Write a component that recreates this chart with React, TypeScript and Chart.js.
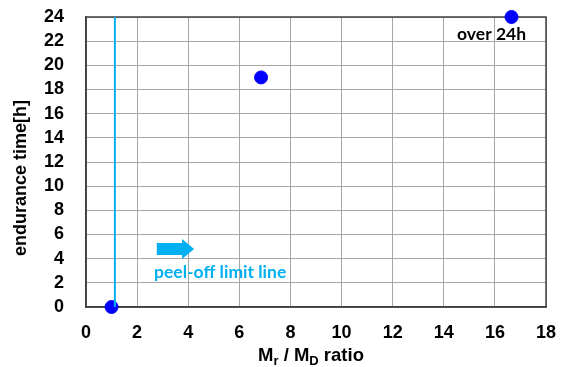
import React, { useEffect, useRef } from "react";
import { Chart, registerables } from "chart.js";

Chart.register(...registerables);

const ratioValues = [1.0, 6.85, 16.65];
const enduranceHours = [0, 19, 24];
const limitLineX = [1.13, 1.13];
const limitLineY = [0, 24];
const xTicks = [0, 2, 4, 6, 8, 10, 12, 14, 16, 18];
const yTicks = [0, 2, 4, 6, 8, 10, 12, 14, 16, 18, 20, 22, 24];
const overLabel = "over 24h";
const overLabelPos = [15.87, 22.6];
const limitLabel = "peel-off limit line";
const limitLabelPos = [5.25, 2.84];
const arrowFrom = [2.77, 4.8];
const arrowTo = [4.23, 4.8];

const CYAN = "#00B0F0";
const ARIAL = "Arial, 'Liberation Sans', sans-serif";
const NOTE_FONT = "bold 17.5px Lato, 'Open Sans', sans-serif";

const overlayPlugin = {
  id: "overlay",
  afterDraw(chart: any) {
    const { ctx, scales, chartArea } = chart;
    const xs = scales.x;
    const ys = scales.y;
    ctx.save();
    // arrow
    const x0 = xs.getPixelForValue(arrowFrom[0]);
    const x1 = xs.getPixelForValue(arrowTo[0]);
    const yc = ys.getPixelForValue(arrowFrom[1]);
    const headLen = 12;
    ctx.fillStyle = CYAN;
    ctx.beginPath();
    ctx.moveTo(x0, yc - 6);
    ctx.lineTo(x1 - headLen, yc - 6);
    ctx.lineTo(x1 - headLen, yc - 10);
    ctx.lineTo(x1, yc);
    ctx.lineTo(x1 - headLen, yc + 10);
    ctx.lineTo(x1 - headLen, yc + 6);
    ctx.lineTo(x0, yc + 6);
    ctx.closePath();
    ctx.fill();
    // labels
    ctx.font = NOTE_FONT;
    ctx.textAlign = "center";
    ctx.textBaseline = "middle";
    ctx.fillStyle = CYAN;
    ctx.fillText(limitLabel, xs.getPixelForValue(limitLabelPos[0]), ys.getPixelForValue(limitLabelPos[1]));
    ctx.fillStyle = "#000";
    ctx.fillText(overLabel, xs.getPixelForValue(overLabelPos[0]), ys.getPixelForValue(overLabelPos[1]));
    // y title
    ctx.font = "bold 18px " + ARIAL;
    ctx.translate(21, (chartArea.top + chartArea.bottom) / 2 + 16);
    ctx.rotate(-Math.PI / 2);
    ctx.fillText("endurance time[h]", 0, 0);
    ctx.restore();

    // x title with subscripts
    ctx.save();
    ctx.fillStyle = "#000";
    ctx.textBaseline = "alphabetic";
    ctx.textAlign = "left";
    const big = "bold 18.5px " + ARIAL;
    const small = "bold 13px " + ARIAL;
    const parts: [string, string, number][] = [
      ["M", big, 0],
      ["r", small, 4],
      [" / M", big, 0],
      ["D", small, 4],
      [" ratio", big, 0],
    ];
    let total = 0;
    for (const [t, f] of parts) {
      ctx.font = f;
      total += ctx.measureText(t).width;
    }
    let x = (chartArea.left + chartArea.right) / 2 - total / 2 - 5;
    const base = 361;
    for (const [t, f, dy] of parts) {
      ctx.font = f;
      ctx.fillText(t, x, base + dy);
      x += ctx.measureText(t).width;
    }
    ctx.restore();
  },
};

const framePlugin = {
  id: "frame",
  beforeDatasetsDraw(chart: any) {
    const { ctx, chartArea } = chart;
    ctx.save();
    ctx.strokeStyle = "#404040";
    ctx.lineWidth = 1.5;
    ctx.strokeRect(chartArea.left, chartArea.top, chartArea.right - chartArea.left, chartArea.bottom - chartArea.top);
    ctx.restore();
  },
};

export default function App() {
  const ref = useRef<HTMLCanvasElement>(null);
  useEffect(() => {
    if (!ref.current) return;
    const chart = new Chart(ref.current, {
      type: "scatter",
      data: {
        datasets: [
          {
            label: "limit",
            data: limitLineX.map((v, i) => ({ x: v, y: limitLineY[i] })),
            showLine: true,
            borderColor: CYAN,
            borderWidth: 2,
            pointRadius: 0,
            clip: false,
          } as any,
          {
            label: "endurance",
            data: ratioValues.map((v, i) => ({ x: v, y: enduranceHours[i] })),
            backgroundColor: "#0000FF",
            borderColor: "#0000FF",
            pointRadius: 6.5,
            pointHoverRadius: 6.5,
            clip: false,
          } as any,
        ],
      },
      options: {
        animation: false,
        responsive: true,
        maintainAspectRatio: false,
        layout: { padding: { top: 17, right: 17, left: 0, bottom: 0 } },
        plugins: { legend: { display: false }, tooltip: { enabled: false } },
        scales: {
          x: {
            type: "linear",
            min: 0,
            max: 18,
            afterBuildTicks: (s: any) => {
              s.ticks = xTicks.map((v) => ({ value: v }));
            },
            afterFit: (s: any) => {
              s.height = 60;
              s.paddingLeft = 0;
              s.paddingRight = 0;
            },
            grid: { color: "#a6a6a6", lineWidth: 1, drawTicks: false },
            border: { color: "#404040", width: 1.5 },
            ticks: { font: { family: "Arial", size: 18, weight: "bold" }, color: "#000", padding: 15, maxRotation: 0, autoSkip: false },
          },
          y: {
            type: "linear",
            min: 0,
            max: 24,
            afterBuildTicks: (s: any) => {
              s.ticks = yTicks.map((v) => ({ value: v }));
            },
            afterFit: (s: any) => {
              s.width = 86;
              s.paddingTop = 0;
              s.paddingBottom = 0;
            },
            grid: { color: "#a6a6a6", lineWidth: 1, drawTicks: false },
            border: { color: "#404040", width: 1.5 },
            ticks: { font: { family: "Arial", size: 18, weight: "bold" }, color: "#000", padding: 22, autoSkip: false },
          },
        },
      },
      plugins: [overlayPlugin, framePlugin],
    } as any);
    return () => chart.destroy();
  }, []);
  return (
    <div style={{ position: "fixed", left: 0, top: 0, width: 563, height: 367, background: "#fff" }}>
      <canvas ref={ref} />
    </div>
  );
}
